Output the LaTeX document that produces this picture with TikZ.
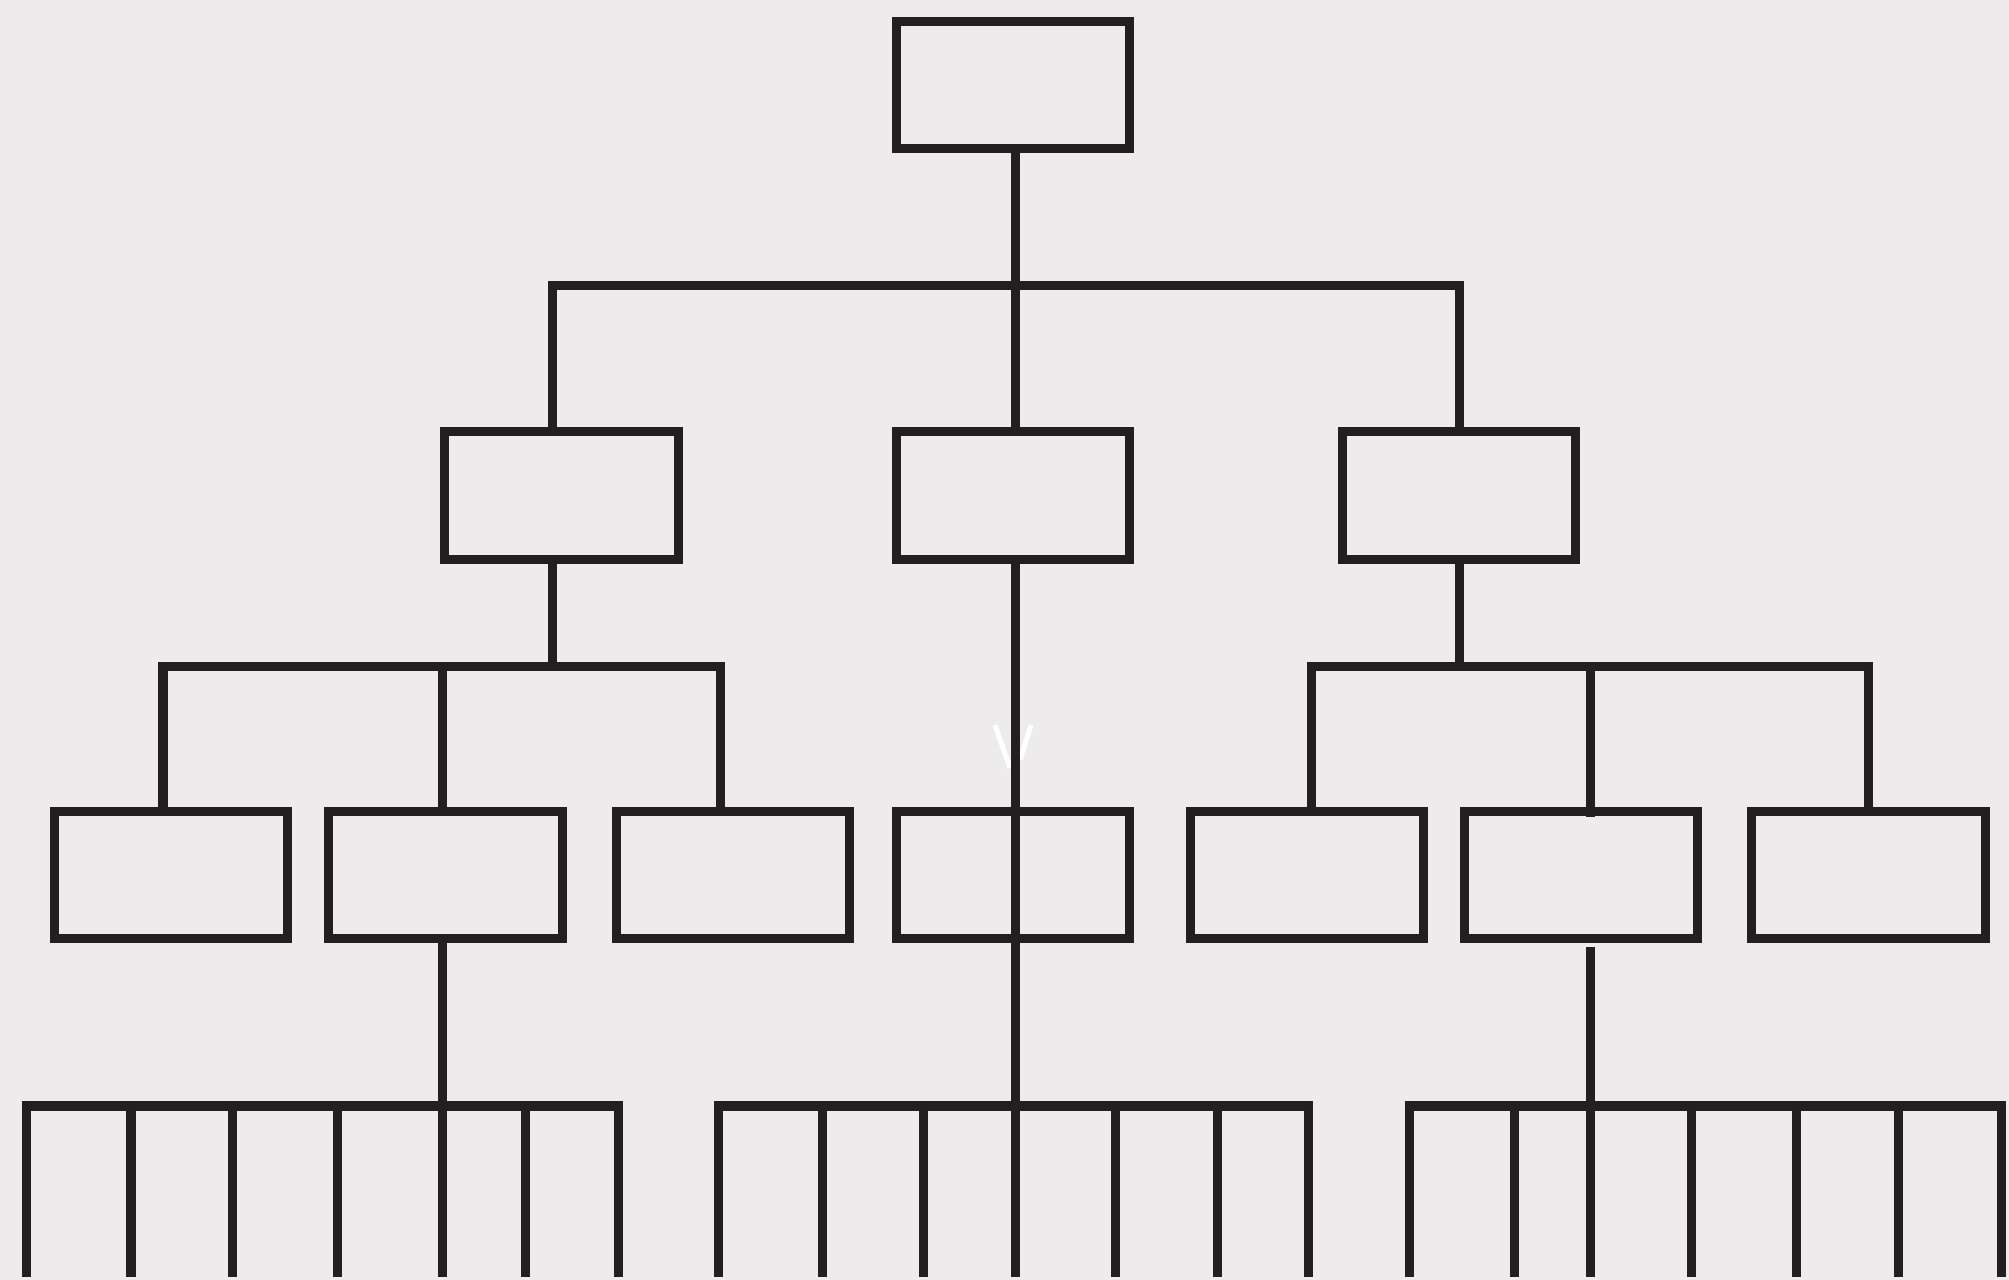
\documentclass[tikz,border=0pt]{standalone}
\usepackage{tikz}

\definecolor{paper}{HTML}{EDEBEC}
\definecolor{ink}{HTML}{231F20}

\tikzset{
  box/.style={rectangle,draw=ink,line width=0.09cm,minimum width=2.33cm,
    minimum height=1.27cm,inner sep=0pt,outer sep=0pt},
  wire/.style={draw=ink,line width=0.09cm,line join=miter},
}

\begin{document}
\begin{tikzpicture}[x=0.01cm,y=-0.01cm]
  \fill[paper] (0,0) rectangle (2009,1280);
  \useasboundingbox (0,0) rectangle (2009,1280);

  % faint white mark above the middle box
  \draw[white,line width=0.05cm] (995,725) -- (1010,768);
  \draw[white,line width=0.05cm] (1031,725) -- (1020,760);

  % boxes
  \draw (1013,85) node[box] (T) {};
  \draw (561.5,495.5) node[box] (L) {};
  \draw (1013,495.5) node[box] (M) {};
  \draw (1459,495.5) node[box] (R) {};
  \draw (171.25,875) node[box] (LA) {};
  \draw (445.5,875) node[box] (LB) {};
  \draw (733,875) node[box] (LC) {};
  \draw (1013,875) node[box] (MA) {};
  \draw (1306.75,875) node[box] (RA) {};
  \draw (1581.25,875) node[box] (RB) {};
  \draw (1868.5,875) node[box] (RC) {};

  % junctions
  \coordinate (t) at (1015,286);
  \coordinate (dl) at (552,286);
  \coordinate (dr) at (1459.5,286);
  \coordinate (la) at (163,667);
  \coordinate (lb) at (442,667);
  \coordinate (lc) at (720,667);
  \coordinate (ra) at (1311.7,667);
  \coordinate (rb) at (1590,667);
  \coordinate (rc) at (1868.5,667);
  \coordinate (lbot) at (442,1106);
  \coordinate (mbot) at (1015,1277);
  \coordinate (rtop) at (1590,947);
  \coordinate (rbot) at (1590,1106);

  % level 1 to 2
  \draw[wire] (T.south -| t) -- (M.north -| t);
  \draw[wire] (L.north -| dl) |- (dr) -- (R.north -| dr);

  % level 2 to 3
  \draw[wire] (L.south -| dl) -- (dl |- la);
  \draw[wire] (LA.north -| la) |- (lc) -- (LC.north -| lc);
  \draw[wire] (lb) -- (LB.north -| lb);
  \draw[wire] (R.south -| dr) -- (dr |- ra);
  \draw[wire] (RA.north -| ra) |- (rc) -- (RC.north -| rc);
  \draw[wire] (rb) -- (1590,817);

  % down to the bottom row
  \draw[wire] (M.south -| t) -- (mbot);
  \draw[wire] (LB.south -| lb) -- (lbot);
  \draw[wire] (rtop) -- (rbot);

  % bottom rows of ticks
  \draw[wire] (26.7,1277) |- (618,1106) -- (618,1277);
  \foreach \x in {131,232,337,442,525}
    \draw[wire] (\x,1106) -- (\x,1277);
  \draw[wire] (718,1277) |- (1308,1106) -- (1308,1277);
  \foreach \x in {822,923.7,1115,1217}
    \draw[wire] (\x,1106) -- (\x,1277);
  \draw[wire] (1409,1277) |- (2001,1106) -- (2001,1277);
  \foreach \x in {1514,1590,1691,1796,1898}
    \draw[wire] (\x,1106) -- (\x,1277);
\end{tikzpicture}
\end{document}
